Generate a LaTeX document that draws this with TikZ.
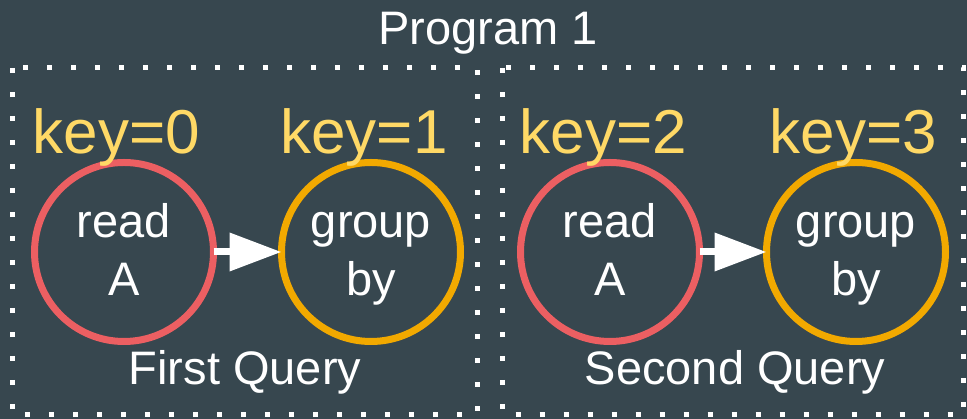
\documentclass[tikz,border=0pt]{standalone}
\usepackage{fontspec}
\setmainfont{Liberation Sans}
\usetikzlibrary{arrows.meta}

\definecolor{bgslate}{HTML}{37474F}
\definecolor{readred}{HTML}{EC5F62}
\definecolor{groupamber}{HTML}{F2A900}
\definecolor{keygold}{HTML}{FFD966}

\tikzset{
  opnode/.style={circle, draw=#1, line width=7pt, minimum size=179pt,
    inner sep=0pt, outer sep=0pt, text=white, align=center,
    font=\fontsize{47}{58}\selectfont},
  keylabel/.style={anchor=base, text=keygold, inner sep=0pt,
    font=\fontsize{62}{74}\selectfont},
  caption/.style={anchor=base, text=white, inner sep=0pt,
    font=\fontsize{47}{56}\selectfont},
  querybox/.style={draw=white, line width=5pt, dash pattern=on 5pt off 19pt},
  flow/.style={draw=white, line width=7pt,
    -{Triangle[length=52pt,width=37pt]}},
}
% fixes the height of the first line and the depth of the last one,
% so both two-line labels sit at the same height in their circles
\newcommand{\oplines}[2]{\rule{0pt}{42pt}#1\\#2\rule[-12pt]{0pt}{12pt}}

\begin{document}
\begin{tikzpicture}[x=1pt,y=1pt]
  \fill[bgslate] (0,0) rectangle (967,419);
  \useasboundingbox (0,0) rectangle (967,419);

  % title
  \node[caption] (title) at (488,374) {Program 1};

  % dotted query frames
  \draw[querybox] (12,351) rectangle (477,4);
  \draw[querybox] (502.5,351) rectangle (963.5,4);

  % operators
  \node[opnode=readred]    (r1) at (124,167) {\oplines{read}{A}};
  \node[opnode=groupamber] (g1) at (371,167) {\oplines{group}{by}};
  \node[opnode=readred]    (r2) at (610,167) {\oplines{read}{A}};
  \node[opnode=groupamber] (g2) at (856,167) {\oplines{group}{by}};

  % key labels
  \node[keylabel] (k0) at (116.5,265) {key=0};
  \node[keylabel] (k1) at (364,265) {key=1};
  \node[keylabel] (k2) at (603.5,265) {key=2};
  \node[keylabel] (k3) at (853.5,265) {key=3};

  % data flow
  \draw[flow] (r1.east) -- (g1.west);
  \draw[flow] (r2.east) -- (g2.west);

  % frame captions
  \node[caption] (q1) at (245,34) {First Query};
  \node[caption] (q2) at (735,34) {Second Query};
\end{tikzpicture}
\end{document}
